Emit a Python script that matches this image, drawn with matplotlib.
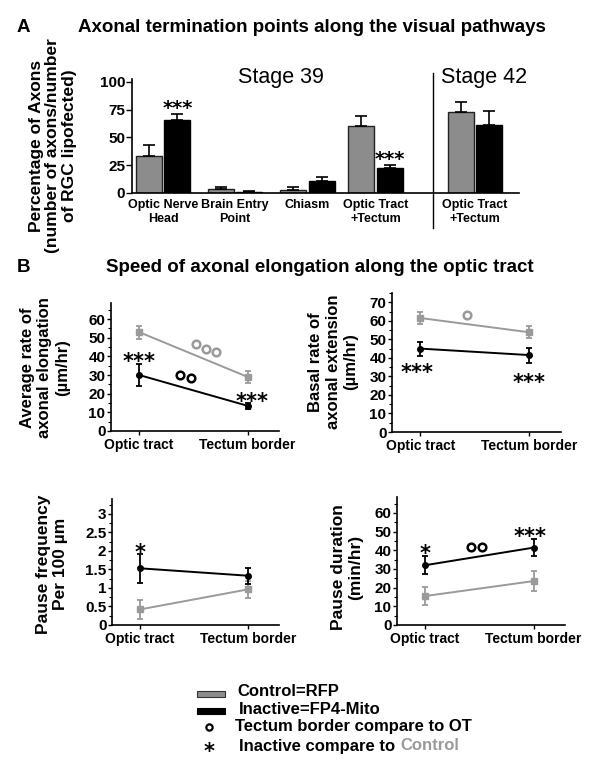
import numpy as np
import matplotlib
matplotlib.use("Agg")
import matplotlib.pyplot as plt
from matplotlib.patches import Rectangle
from matplotlib.lines import Line2D
from matplotlib.text import Annotation
from matplotlib.ticker import MultipleLocator, FormatStrFormatter

plt.rcParams['font.family'] = ['Liberation Sans', 'DejaVu Sans']
plt.rcParams['font.weight'] = 'bold'

GRAY = '#8c8c8c'
LGRAY = '#9a9a9a'

# ---------------------- Panel A data ----------------------
a_categories = ['Optic Nerve\nHead', 'Brain Entry\nPoint', 'Chiasm',
                'Optic Tract\n+Tectum', 'Optic Tract\n+Tectum']
a_control = [33, 3.5, 3, 60, 73]
a_control_err = [10, 2, 2, 9, 9]
a_inactive = [66, 1, 11, 22.5, 61]
a_inactive_err = [5.5, 0.8, 3.5, 3, 13]
a_stars = ['***', '', '', '***', '']

# ---------------------- Panel B data ----------------------
b_sites = ['Optic tract', 'Tectum border']

avg_ctrl = [53, 29]
avg_ctrl_err = [3.5, 3.4]
avg_inact = [30, 13.5]
avg_inact_err = [6, 1.5]

basal_ctrl = [61.5, 53.8]
basal_ctrl_err = [3.2, 3.3]
basal_inact = [45, 41.5]
basal_inact_err = [3.8, 4]

freq_ctrl = [0.42, 0.96]
freq_ctrl_err = [0.26, 0.22]
freq_inact = [1.53, 1.33]
freq_inact_err = [0.39, 0.22]

dur_ctrl = [15.5, 23.5]
dur_ctrl_err = [5, 5.3]
dur_inact = [32, 41.4]
dur_inact_err = [4.7, 4.7]

W, H = 600, 770
fig = plt.figure(figsize=(6, 7.7), dpi=100)


def px_axes(left, top, right, bottom):
    # place an axes box using pixel edges of the 600x770 canvas
    return fig.add_axes([left / W, 1 - bottom / H, (right - left) / W, (bottom - top) / H])


def fx(x):
    return x / W


def fy(y):
    return 1 - y / H


def stars(ax, x, y, s, size=15):
    # asterisk glyph sits high in the em box, shift so (x, y) is the glyph centre
    ax.annotate(s, (x, y), xytext=(0, -0.26 * size), textcoords='offset points',
                ha='center', va='center', fontsize=size, fontweight='bold',
                family='DejaVu Sans', annotation_clip=False)


def rings(ax, xs, ys, color):
    ax.plot(xs, ys, 'o', ls='none', ms=5.5, mew=1.8, mfc='white', mec=color,
            clip_on=False, zorder=5)


# ---------------------- Panel A ----------------------
ax = px_axes(132, 79, 519, 193)
gx = np.array([0, 1, 2, 2.95, 4.33])
bw = 0.36
ax.bar(gx - 0.2, a_control, bw, color=GRAY, edgecolor='#222222', linewidth=1)
ax.bar(gx + 0.2, a_inactive, bw, color='black', edgecolor='black', linewidth=1)
ax.errorbar(gx - 0.2, a_control, yerr=[np.zeros(5), a_control_err], fmt='none',
            ecolor='black', elinewidth=1.2, capsize=4.5, capthick=1.2)
ax.errorbar(gx + 0.2, a_inactive, yerr=[np.zeros(5), a_inactive_err], fmt='none',
            ecolor='black', elinewidth=1.2, capsize=4.5, capthick=1.2)
for x, v, e, s in zip(gx + 0.2, a_inactive, a_inactive_err, a_stars):
    if s:
        stars(ax, x, v + e + 9, s, size=14)

ax.set_xlim(-0.43, 4.94)
ax.set_ylim(0, 102.7)
ax.set_yticks([0, 25, 50, 75, 100])
ax.set_xticks(gx)
ax.set_xticklabels(a_categories, fontsize=9, fontweight='bold', linespacing=1.3)
ax.tick_params(axis='x', length=0, pad=4)
ax.tick_params(axis='y', labelsize=11, length=4, width=1, pad=1)
for sp in ['top', 'right']:
    ax.spines[sp].set_visible(False)
for sp in ['left', 'bottom']:
    ax.spines[sp].set_linewidth(1.2)
ax.plot([3.75, 3.75], [-31.5, 108], color='black', lw=1, clip_on=False)
ax.text(1.63, 104.5, 'Stage 39', ha='center', va='center', fontsize=15.5, fontweight='normal')
ax.text(4.46, 104.5, 'Stage 42', ha='center', va='center', fontsize=15.5, fontweight='normal')

fig.text(fx(53), fy(146), 'Percentage of Axons\n(number of axons/number\nof RGC lipofected)',
         rotation=90, ha='center', va='center', fontsize=12.5, fontweight='bold',
         linespacing=1.15, multialignment='center')
fig.text(fx(23), fy(27), 'A', ha='center', va='center', fontsize=13.5, fontweight='bold')
fig.text(fx(312), fy(27), 'Axonal termination points along the visual pathways',
         ha='center', va='center', fontsize=13.5, fontweight='bold')
fig.text(fx(23), fy(268), 'B', ha='center', va='center', fontsize=13.5, fontweight='bold')
fig.text(fx(320), fy(268), 'Speed of axonal elongation along the optic tract',
         ha='center', va='center', fontsize=13.5, fontweight='bold')


# ---------------------- Panel B ----------------------
def speed_panel(box, ctrl, ctrl_err, inact, inact_err, ytop, ystep, ymax_tick):
    ax = px_axes(*box)
    xs = np.arange(len(b_sites))
    ax.errorbar(xs, ctrl, yerr=ctrl_err, color=LGRAY, marker='s', ms=4.5, lw=1.4,
                elinewidth=1.3, capsize=2.5, capthick=1.3, zorder=3)
    ax.errorbar(xs, inact, yerr=inact_err, color='black', marker='o', ms=4, lw=1.4,
                elinewidth=1.3, capsize=2.5, capthick=1.3, zorder=4)
    ax.set_xlim(-0.26, 1.29)
    ax.set_ylim(0, ytop)
    ax.set_yticks(np.arange(0, ymax_tick + ystep / 2, ystep))
    ax.yaxis.set_minor_locator(MultipleLocator(ystep / 2))
    ax.yaxis.set_major_formatter(FormatStrFormatter('%g'))
    ax.set_xticks(xs)
    ax.set_xticklabels(b_sites, fontsize=10, fontweight='bold')
    ax.tick_params(axis='x', length=3, width=1, pad=2)
    ax.tick_params(axis='y', which='major', labelsize=11, length=3, width=1, pad=1)
    ax.tick_params(axis='y', which='minor', length=2, width=0.8)
    for sp in ['top', 'right']:
        ax.spines[sp].set_visible(False)
    for sp in ['left', 'bottom']:
        ax.spines[sp].set_linewidth(1.2)
    return ax


b1 = speed_panel((111, 303, 279, 431), avg_ctrl, avg_ctrl_err, avg_inact, avg_inact_err,
                 68.6, 10, 60)
stars(b1, 0, 40, '***')
stars(b1, 1.04, 18.7, '***')
rings(b1, [0.52, 0.62, 0.71], [46.6, 44.1, 42.5], LGRAY)
rings(b1, [0.38, 0.48], [30, 28.2], 'black')
fig.text(fx(45), fy(368), 'Average rate of\naxonal elongation\n(\u00b5m/hr)', rotation=90,
         ha='center', va='center', fontsize=12, fontweight='bold', linespacing=1.2,
         multialignment='center')

b2 = speed_panel((392, 293, 561, 432), basal_ctrl, basal_ctrl_err, basal_inact, basal_inact_err,
                 75, 10, 70)
stars(b2, -0.03, 35, '***')
stars(b2, 1.0, 29.6, '***')
rings(b2, [0.43], [63], LGRAY)
fig.text(fx(333), fy(362), 'Basal rate of\naxonal extension\n(\u00b5m/hr)', rotation=90,
         ha='center', va='center', fontsize=12, fontweight='bold', linespacing=1.2,
         multialignment='center')

b3 = speed_panel((112, 499, 279, 625), freq_ctrl, freq_ctrl_err, freq_inact, freq_inact_err,
                 3.4, 0.5, 3)
b3.yaxis.set_minor_locator(MultipleLocator(0.25))
stars(b3, 0, 2.1, '*')
fig.text(fx(52), fy(564), 'Pause frequency\nPer 100 \u00b5m', rotation=90,
         ha='center', va='center', fontsize=12.5, fontweight='bold', linespacing=1.2,
         multialignment='center')

b4 = speed_panel((397, 497, 565, 625), dur_ctrl, dur_ctrl_err, dur_inact, dur_inact_err,
                 68.5, 10, 60)
stars(b4, 0, 41, '*')
stars(b4, 0.97, 50, '***')
rings(b4, [0.42, 0.52], [42, 42], 'black')
fig.text(fx(347), fy(567), 'Pause duration\n(min/hr)', rotation=90,
         ha='center', va='center', fontsize=12.5, fontweight='bold', linespacing=1.2,
         multialignment='center')

# ---------------------- Legend ----------------------
fig.add_artist(Rectangle((fx(197), fy(697)), 28 / W, 6 / H, transform=fig.transFigure,
                         facecolor=GRAY, edgecolor='#333333', lw=0.8))
fig.add_artist(Rectangle((fx(197), fy(714)), 28 / W, 6 / H, transform=fig.transFigure,
                         facecolor='black', edgecolor='black', lw=0.8))
fig.add_artist(Line2D([fx(209)], [fy(727)], transform=fig.transFigure, marker='o', ls='none',
                      ms=4.5, mew=1.6, mfc='white', mec='black'))
fig.text(fx(209), fy(752), '*', ha='center', va='center', fontsize=15, fontweight='bold',
         family='DejaVu Sans')
fig.text(fx(237), fy(692), 'Control=RFP', ha='left', va='center', fontsize=12, fontweight='bold')
fig.text(fx(239), fy(710), 'Inactive=FP4-Mito', ha='left', va='center', fontsize=12,
         fontweight='bold')
fig.text(fx(235), fy(727), 'Tectum border compare to OT', ha='left', va='center', fontsize=12,
         fontweight='bold')
t4 = fig.text(fx(239), fy(746), 'Inactive compare to', ha='left', va='center', fontsize=12,
              fontweight='bold')
fig.add_artist(Annotation('Control', xy=(1, 0), xycoords=t4, xytext=(3.5, 0),
                          textcoords='offset points', ha='left', va='bottom', fontsize=12,
                          fontweight='bold', color=LGRAY))

fig.savefig('out.png', dpi=100)
